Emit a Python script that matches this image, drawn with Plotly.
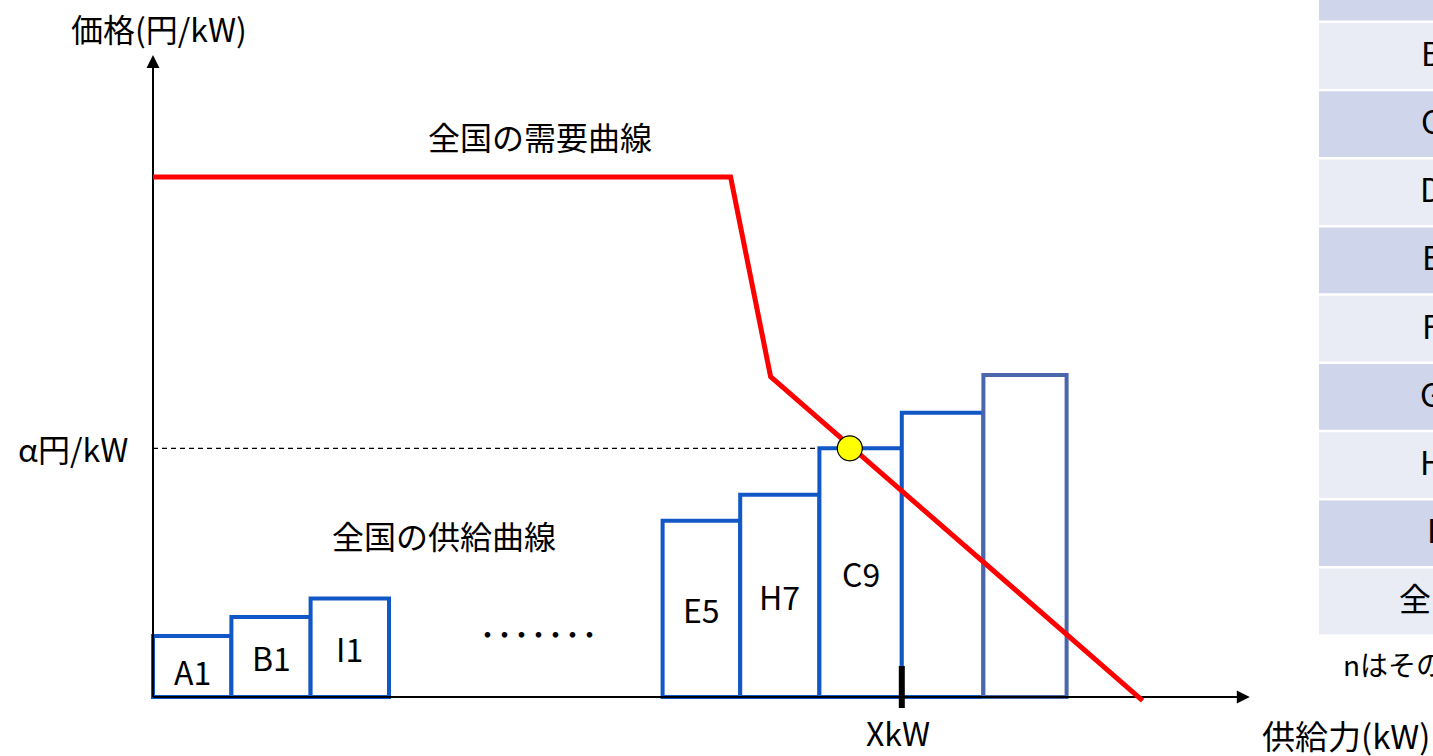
import plotly.graph_objects as go

# ---- supply blocks (capacity on x, bid price on y) ----
supply_labels = ["A1", "B1", "I1", "E5", "H7", "C9", "", ""]
supply_x0 = [0.0, 0.98, 1.97, 6.37, 7.34, 8.33, 9.36, 10.38]
supply_x1 = [0.98, 1.97, 2.95, 7.34, 8.33, 9.36, 10.38, 11.42]
supply_price = [6.1, 8.0, 9.84, 17.63, 20.23, 24.87, 28.43, 32.2]

# ---- national demand curve ----
demand_x = [0.0, 7.22, 7.72, 12.37]
demand_y = [52.0, 52.0, 32.03, -0.37]

# ---- market clearing ----
clearing_block = 5                      # C9 sets the price
alpha_price = supply_price[clearing_block]
cleared_kw = supply_x1[clearing_block]
clearing_point_x = 8.71

# ---- axis extents ----
x_axis_end = 13.71
y_axis_end = 64.2

# ---- area table (rows) ----
table_rows = ["A", "B", "C", "D", "E", "F", "G", "H", "I", "全国"]

FONT = "Noto Sans CJK JP"
BLUE = "#1257C6"
BLUE_LAST = "#4A66AD"
W, H = 1433, 756

fig = go.Figure()

# cleared-quantity tick on the x axis
fig.add_trace(go.Scatter(x=[cleared_kw, cleared_kw], y=[-1.1, 3.1], mode="lines",
                         line=dict(color="black", width=6), hoverinfo="skip"))

# axes
fig.add_trace(go.Scatter(x=[0, 0], y=[0, y_axis_end - 1], mode="lines",
                         line=dict(color="black", width=2), hoverinfo="skip"))
fig.add_trace(go.Scatter(x=[0, x_axis_end - 0.1], y=[0, 0], mode="lines",
                         line=dict(color="black", width=2), hoverinfo="skip"))

# clearing price guide
fig.add_trace(go.Scatter(x=[0, supply_x0[clearing_block]], y=[alpha_price, alpha_price],
                         mode="lines", line=dict(color="black", width=1.3, dash="5px,4px"),
                         hoverinfo="skip"))

# supply blocks
widths = [b - a for a, b in zip(supply_x0, supply_x1)]
centers = [(a + b) / 2 for a, b in zip(supply_x0, supply_x1)]
line_colors = [BLUE] * (len(supply_price) - 1) + [BLUE_LAST]
fig.add_trace(go.Bar(x=centers, y=supply_price, width=widths, base=0,
                     marker=dict(color="white", line=dict(color=line_colors, width=4)),
                     hoverinfo="skip"))

# demand curve
fig.add_trace(go.Scatter(x=demand_x, y=demand_y, mode="lines",
                         line=dict(color="#FF0000", width=5), hoverinfo="skip"))

# clearing point
fig.add_trace(go.Scatter(x=[clearing_point_x], y=[alpha_price], mode="markers",
                         marker=dict(size=25, color="#FFFF00", line=dict(color="black", width=1.2)),
                         hoverinfo="skip"))

annotations = []


def text(x, y, s, size=32, xanchor="center", yanchor="middle", xref="x", yref="y"):
    annotations.append(dict(x=x, y=y, xref=xref, yref=yref, text=s, showarrow=False,
                            xanchor=xanchor, yanchor=yanchor,
                            font=dict(family=FONT, size=size, color="black")))


# block labels
for lab, c, p in zip(supply_labels, centers, supply_price):
    if lab:
        text(c, p / 2 - (0.4 if p < 7 else 0), lab)

text(0.07, 66.9, "価格(円/kW)")
text(4.84, 56.1, "全国の需要曲線")
text(3.64, 16.2, "全国の供給曲線")
text(4.82, 6.4, "･･･････", size=34)
text(-0.29, alpha_price, "α円/kW", xanchor="right")
text(cleared_kw - 0.05, -3.5, "XkW")
text(16.0, -3.75, "供給力(kW)", size=33, xanchor="right")

# arrow heads
annotations.append(dict(x=0, y=y_axis_end, ax=0, ay=y_axis_end - 3, xref="x", yref="y",
                        axref="x", ayref="y", text="", showarrow=True, arrowhead=2,
                        arrowsize=1.3, arrowwidth=2, arrowcolor="black"))
annotations.append(dict(x=x_axis_end, y=0, ax=x_axis_end - 0.4, ay=0, xref="x", yref="y",
                        axref="x", ayref="y", text="", showarrow=True, arrowhead=2,
                        arrowsize=1.3, arrowwidth=2, arrowcolor="black"))

# area table on the right edge
shapes = []
row_pitch, row_h, first_top, tbl_left = 68.2, 65.7, -45.2, 1319
band = ["#CFD5EA", "#E9EBF5"]
for i, name in enumerate(table_rows):
    top = first_top + i * row_pitch
    shapes.append(dict(type="rect", xref="paper", yref="paper", layer="below",
                       x0=tbl_left / W, x1=1.3, y0=1 - (top + row_h) / H, y1=1 - top / H,
                       fillcolor=band[i % 2], line=dict(width=0)))
    text(1431 / W, 1 - (top + row_h / 2 - 4) / H, name, xref="paper", yref="paper")

text(1341 / W, 1 - 664 / H, "nはその", size=28, xanchor="left", xref="paper", yref="paper")

fig.update_layout(
    width=W, height=H, autosize=False,
    margin=dict(l=0, r=0, t=0, b=0),
    paper_bgcolor="white", plot_bgcolor="white",
    showlegend=False, barmode="overlay",
    xaxis=dict(range=[-1.9125, 16.0], visible=False, fixedrange=True),
    yaxis=dict(range=[-5.9, 69.7], visible=False, fixedrange=True),
    annotations=annotations, shapes=shapes,
)

fig.write_html("out.html")
